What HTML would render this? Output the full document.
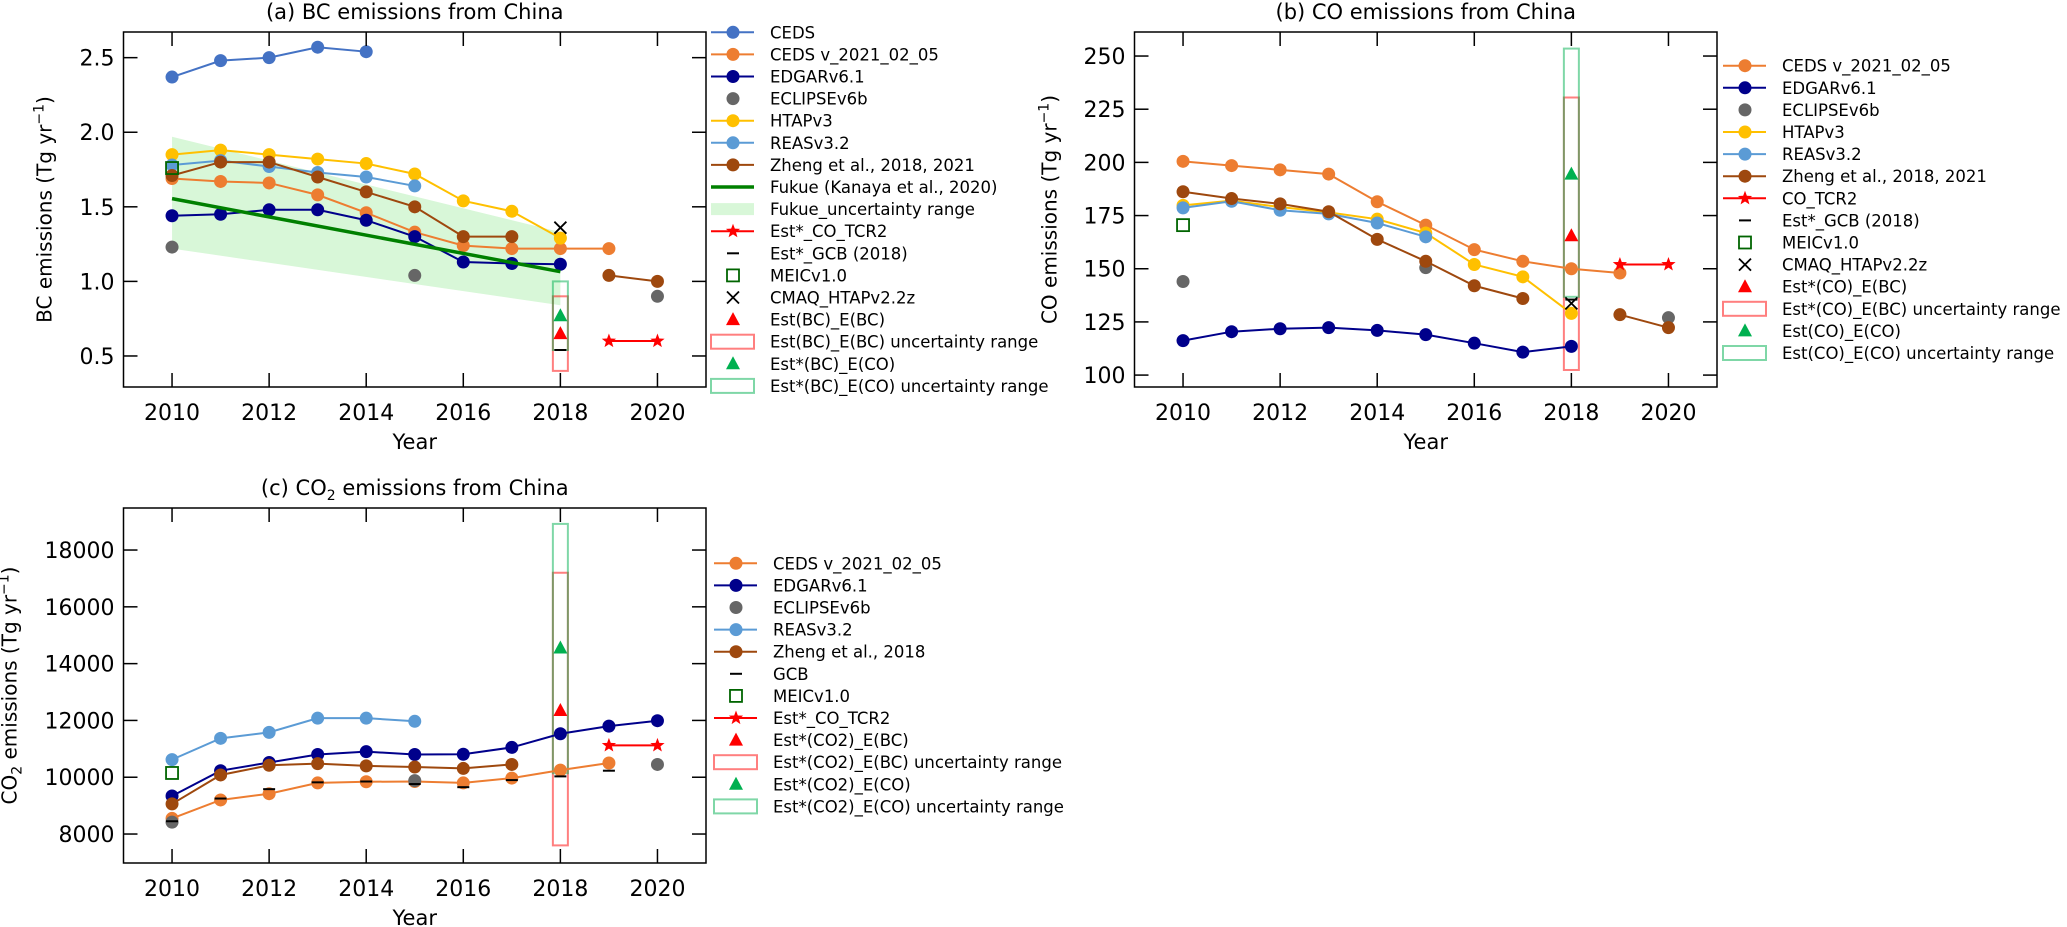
<!DOCTYPE html>
<html><head><meta charset="utf-8"><title>Emissions from China</title>
<style>
html,body{margin:0;padding:0;background:#fff;}
svg{display:block;font-family:"DejaVu Sans","Liberation Sans",sans-serif;}
</style></head>
<body>
<svg id="fig" xmlns="http://www.w3.org/2000/svg" width="2067" height="927" viewBox="0 0 2067 927"></svg>
<script>
// ---------- data ----------
const YEARS = [2010,2011,2012,2013,2014,2015,2016,2017,2018,2019,2020];
// (a) BC, Tg/yr
const bcCeds    = [2.37,2.48,2.50,2.57,2.54,null,null,null,null,null,null];
const bcCedsV   = [1.69,1.67,1.66,1.58,1.46,1.33,1.24,1.22,1.22,1.22,null];
const bcEdgar   = [1.44,1.45,1.48,1.48,1.41,1.30,1.13,1.12,1.115,null,null];
const bcEclipse = [1.23,null,null,null,null,1.04,null,null,null,null,0.90];
const bcHtap    = [1.85,1.88,1.85,1.82,1.79,1.72,1.54,1.47,1.29,null,null];
const bcReas    = [1.78,1.81,1.77,1.73,1.70,1.64,null,null,null,null,null];
const bcZheng   = [1.71,1.80,1.80,1.70,1.60,1.50,1.30,1.30,null,1.04,1.00];
const bcFukueYears = [2010,2018];
const bcFukue      = [1.555,1.065];
const bcFukueHigh  = [1.97,1.33];
const bcFukueLow   = [1.22,0.84];
const bcTcr2Years = [2019,2020];
const bcTcr2      = [0.60,0.60];
const bcGcb  = 0.54;
const bcMeic = 1.76;
const bcCmaq = 1.36;
const bcEstBB = 0.65;  const bcEstBBRange = [0.40,0.90];
const bcEstBC = 0.77;  const bcEstBCRange = [0.54,1.00];
const bcTicks = [0.5,1.0,1.5,2.0,2.5];
const bcTickLabels = ["0.5","1.0","1.5","2.0","2.5"];
// (b) CO, Tg/yr
const coCedsV   = [200.5,198.5,196.5,194.5,181.5,170.5,159,153.5,150,148,null];
const coEdgar   = [116.2,120.4,121.8,122.3,121,119,115,110.8,113.5,null,null];
const coEclipse = [144,null,null,null,null,150.5,null,null,null,null,127];
const coHtap    = [179.8,182,179,176.5,173.3,166.8,152,146.2,129,null,null];
const coReas    = [178.6,181.7,177.5,175.8,171.5,165,null,null,null,null,null];
const coZheng   = [186.2,183,180.5,176.8,163.8,153.5,142,136,null,128.4,122.3];
const coTcr2Years = [2019,2020];
const coTcr2      = [152,152];
const coGcb  = 135.5;
const coMeic = 170.5;
const coCmaq = 133.7;
const coEstCB = 165.5; const coEstCBRange = [102.4,230.5];
const coEstCC = 194.5; const coEstCCRange = [136.8,253.5];
const coTicks = [100,125,150,175,200,225,250];
const coTickLabels = ["100","125","150","175","200","225","250"];
// (c) CO2, Tg/yr
const c2CedsV   = [8550,9200,9420,9800,9840,9850,9800,9970,10250,10500,null];
const c2Edgar   = [9340,10230,10520,10800,10900,10800,10810,11050,11530,11800,11990];
const c2Eclipse = [8420,null,null,null,null,9880,null,null,null,null,10450];
const c2Reas    = [10620,11370,11580,12080,12080,11970,null,null,null,null,null];
const c2Zheng   = [9060,10080,10420,10480,10400,10360,10310,10450,null,null,null];
const c2Gcb     = [8450,9250,9580,9820,9850,9760,9650,9900,10030,10230,null];
const c2Meic = 10150;
const c2Tcr2Years = [2019,2020];
const c2Tcr2      = [11120,11120];
const c2EstB = 12350; const c2EstBRange = [7600,17200];
const c2EstC = 14550; const c2EstCRange = [10140,18920];
const c2Ticks = [8000,10000,12000,14000,16000,18000];
const c2TickLabels = ["8000","10000","12000","14000","16000","18000"];
const xTicks = [2010,2012,2014,2016,2018,2020];
const xTickLabels = ["2010","2012","2014","2016","2018","2020"];

// ---------- colours ----------
const C = {ceds:'#4472C4',cedsV:'#ED7D31',edgar:'#00008B',eclipse:'#666666',htap:'#FFC000',
  reas:'#5B9BD5',zheng:'#9E480E',fukue:'#008000',band:'#d8f7d8',red:'#ff0000',meic:'#006400',
  green:'#00b050',boxR:'rgba(255,0,0,0.5)',boxG:'rgba(0,176,80,0.5)'};
const MR = 6.5;

const NS='http://www.w3.org/2000/svg';
const svg=document.getElementById('fig');
function el(tag, attrs, parent, name){
  const e=document.createElementNS(NS,tag);
  for(const k in attrs) e.setAttribute(k,attrs[k]);
  
  
  (parent||svg).appendChild(e);
  return e;
}
function txt(s, attrs, parent, name){ const t=el('text',attrs,parent,name); t.textContent=s; return t; }

function makePanel(x0,x1,y0,y1,ymin,ymax,name){
  const g=el('g',{},svg,name);
  return {g,x0,x1,y0,y1,
    sx:yr=>x0+(yr-2009)/12*(x1-x0),
    sy:v=>y1-(v-ymin)/(ymax-ymin)*(y1-y0)};
}
function axes(p, yTicks, yLabels, title, ylabelParts, prefix){
  el('rect',{x:p.x0,y:p.y0,width:p.x1-p.x0,height:p.y1-p.y0,fill:'none',stroke:'#000','stroke-width':1.5},p.g,prefix+'-axes-frame');
  xTicks.forEach((yr,i)=>{
    const x=p.sx(yr);
    el('line',{x1:x,y1:p.y1,x2:x,y2:p.y1-14,stroke:'#000','stroke-width':1.5},p.g,prefix+'-x-tick');
    el('line',{x1:x,y1:p.y0,x2:x,y2:p.y0+14,stroke:'#000','stroke-width':1.5},p.g,prefix+'-x-tick-top');
    txt(xTickLabels[i],{x:x,y:p.y1+33,'text-anchor':'middle','font-size':22},p.g,prefix+'-x-tick-label');
  });
  yTicks.forEach((v,i)=>{
    const y=p.sy(v);
    el('line',{x1:p.x0,y1:y,x2:p.x0+14,y2:y,stroke:'#000','stroke-width':1.5},p.g,prefix+'-y-tick');
    el('line',{x1:p.x1,y1:y,x2:p.x1-14,y2:y,stroke:'#000','stroke-width':1.5},p.g,prefix+'-y-tick-right');
    txt(yLabels[i],{x:p.x0-9,y:y+8,'text-anchor':'end','font-size':22},p.g,prefix+'-y-tick-label');
  });
  txt('Year',{x:(p.x0+p.x1)/2,y:p.y1+62,'text-anchor':'middle','font-size':21},p.g,prefix+'-x-axis-title');
  const tt=el('text',{x:(p.x0+p.x1)/2,y:p.y0-13,'text-anchor':'middle','font-size':21},p.g,prefix+'-chart-title');
  title.forEach(([s,sub])=>{const ts=el('tspan',sub?{'font-size':14,dy:5}:(tt.childNodes.length?{dy:-5}:{}),tt,prefix+'-title-part');ts.textContent=s;});
  const cy=(p.y0+p.y1)/2, lx=p.x0-(prefix==='c'?107:(prefix==='b'?78:72));
  const yl=el('text',{x:lx,y:cy,'text-anchor':'middle','font-size':20,transform:`rotate(-90 ${lx} ${cy})`},p.g,prefix+'-y-axis-title');
  let prevShift=0;
  ylabelParts.forEach(([s,mode])=>{
    let a={};
    const shift = mode==='sup'?-8:(mode==='sub'?5:0);
    if(shift!==prevShift) a.dy=shift-prevShift;
    if(mode) a['font-size']=14;
    const ts=el('tspan',a,yl,prefix+'-y-title-part'); ts.textContent=s; prevShift=shift;
  });
}
function lineSeries(p, vals, color, name, withLine){
  if(withLine!==false){
    let d='', pen=false;
    vals.forEach((v,i)=>{ if(v==null){pen=false;return;} d+=(pen?'L':'M')+p.sx(YEARS[i])+' '+p.sy(v)+' '; pen=true; });
    el('path',{d,fill:'none',stroke:color,'stroke-width':2},p.g,name+'-line');
  }
  vals.forEach((v,i)=>{ if(v==null) return;
    el('circle',{cx:p.sx(YEARS[i]),cy:p.sy(v),r:MR,fill:color},p.g,name+'-point');
  });
}
function starPath(cx,cy,r){
  let d='';
  for(let k=0;k<10;k++){const rr=k%2?r*0.42:r; const a=-Math.PI/2+k*Math.PI/5; d+=(k?'L':'M')+(cx+rr*Math.cos(a)).toFixed(2)+' '+(cy+rr*Math.sin(a)).toFixed(2);}
  return d+'Z';
}
function star(g,cx,cy,name){ el('path',{d:starPath(cx,cy,7.5),fill:C.red},g,name); }
function tri(g,cx,cy,color,name){ el('path',{d:`M${cx} ${cy-7.5} L${cx+7} ${cy+5.5} L${cx-7} ${cy+5.5}Z`,fill:color},g,name); }
function square(g,cx,cy,name){ el('rect',{x:cx-6,y:cy-6,width:12,height:12,fill:'none',stroke:C.meic,'stroke-width':1.8},g,name); }
function xmark(g,cx,cy,name){ el('path',{d:`M${cx-6} ${cy-6} L${cx+6} ${cy+6} M${cx+6} ${cy-6} L${cx-6} ${cy+6}`,stroke:'#000','stroke-width':1.8},g,name); }
function dash(g,cx,cy,name){ el('line',{x1:cx-6,y1:cy,x2:cx+6,y2:cy,stroke:'#000','stroke-width':2},g,name); }
function rangeBox(p,yr,range,color,name){
  const x=p.sx(yr);
  el('rect',{x:x-7.5,y:p.sy(range[1]),width:15,height:p.sy(range[0])-p.sy(range[1]),fill:'none',stroke:color,'stroke-width':2},p.g,name);
}
function tcr2(p,yrs,vals,name){
  let d=''; yrs.forEach((y,i)=>{d+=(i?'L':'M')+p.sx(y)+' '+p.sy(vals[i])+' ';});
  el('path',{d,fill:'none',stroke:C.red,'stroke-width':2},p.g,name+'-line');
  yrs.forEach((y,i)=>star(p.g,p.sx(y),p.sy(vals[i]),name+'-point'));
}
function legend(x,y0,items,prefix){
  const g=el('g',{},svg,prefix+'-legend');
  items.forEach((it,i)=>{
    const y=y0+i*22.1, mx=x+22;
    const row=el('g',{},g,prefix+'-legend-entry');
    const k=it[1];
    if(k==='line'){ el('line',{x1:x,y1:y,x2:x+43,y2:y,stroke:it[2],'stroke-width':2},row,'legend-line'); el('circle',{cx:mx,cy:y,r:MR,fill:it[2]},row,'legend-marker'); }
    else if(k==='dot'){ el('circle',{cx:mx,cy:y,r:MR,fill:it[2]},row,'legend-marker'); }
    else if(k==='thick'){ el('line',{x1:x,y1:y,x2:x+43,y2:y,stroke:it[2],'stroke-width':3.5},row,'legend-line'); }
    else if(k==='band'){ el('rect',{x:x,y:y-6,width:43,height:12,fill:C.band},row,'legend-patch'); }
    else if(k==='star'){ el('line',{x1:x,y1:y,x2:x+43,y2:y,stroke:C.red,'stroke-width':2},row,'legend-line'); star(row,mx,y,'legend-marker'); }
    else if(k==='dash'){ dash(row,mx,y,'legend-marker'); }
    else if(k==='square'){ square(row,mx,y,'legend-marker'); }
    else if(k==='x'){ xmark(row,mx,y,'legend-marker'); }
    else if(k==='tri'){ tri(row,mx,y,it[2],'legend-marker'); }
    else if(k==='box'){ el('rect',{x:x,y:y-7,width:43,height:14,fill:'none',stroke:it[2],'stroke-width':2},row,'legend-patch'); }
    txt(it[0],{x:x+59,y:y+6,'font-size':16.5},row,'legend-label');
  });
}

// ---------- panel (a) ----------
const pa=makePanel(123.5,706,32,387,0.292,2.672,'panel-a-bc');
{
  const d='M'+bcFukueYears.map((yr,i)=>pa.sx(yr)+' '+pa.sy(bcFukueHigh[i])).join(' L')+' L'+
    bcFukueYears.slice().reverse().map((yr,i)=>pa.sx(yr)+' '+pa.sy(bcFukueLow.slice().reverse()[i])).join(' L')+'Z';
  el('path',{d,fill:C.band},pa.g,'fukue-uncertainty-band');
  rangeBox(pa,2018,bcEstBBRange,C.boxR,'est-bc-ebc-range');
  rangeBox(pa,2018,bcEstBCRange,C.boxG,'est-bc-eco-range');
  lineSeries(pa,bcCeds,C.ceds,'ceds');
  lineSeries(pa,bcCedsV,C.cedsV,'ceds-v2021');
  lineSeries(pa,bcEdgar,C.edgar,'edgar');
  lineSeries(pa,bcEclipse,C.eclipse,'eclipse',false);
  lineSeries(pa,bcHtap,C.htap,'htap');
  lineSeries(pa,bcReas,C.reas,'reas');
  lineSeries(pa,bcZheng,C.zheng,'zheng');
  el('path',{d:'M'+bcFukueYears.map((yr,i)=>pa.sx(yr)+' '+pa.sy(bcFukue[i])).join(' L'),stroke:C.fukue,'stroke-width':3.5,fill:'none'},pa.g,'fukue-line');
  tcr2(pa,bcTcr2Years,bcTcr2,'est-co-tcr2');
  dash(pa.g,pa.sx(2018),pa.sy(bcGcb),'est-gcb');
  square(pa.g,pa.sx(2010),pa.sy(bcMeic),'meic');
  xmark(pa.g,pa.sx(2018),pa.sy(bcCmaq),'cmaq');
  tri(pa.g,pa.sx(2018),pa.sy(bcEstBB),C.red,'est-bc-ebc');
  tri(pa.g,pa.sx(2018),pa.sy(bcEstBC),C.green,'est-bc-eco');
  axes(pa,bcTicks,bcTickLabels,[['(a) BC emissions from China']],[['BC emissions (Tg yr'],['−1','sup'],[')']],'a');
}
legend(711,32.3,[
  ['CEDS','line',C.ceds],['CEDS v_2021_02_05','line',C.cedsV],['EDGARv6.1','line',C.edgar],['ECLIPSEv6b','dot',C.eclipse],
  ['HTAPv3','line',C.htap],['REASv3.2','line',C.reas],['Zheng et al., 2018, 2021','line',C.zheng],
  ['Fukue (Kanaya et al., 2020)','thick',C.fukue],['Fukue_uncertainty range','band'],['Est*_CO_TCR2','star'],
  ['Est*_GCB (2018)','dash'],['MEICv1.0','square'],['CMAQ_HTAPv2.2z','x'],['Est(BC)_E(BC)','tri',C.red],
  ['Est(BC)_E(BC) uncertainty range','box',C.boxR],['Est*(BC)_E(CO)','tri',C.green],['Est*(BC)_E(CO) uncertainty range','box',C.boxG]
],'a');

// ---------- panel (b) ----------
const pb=makePanel(1134.5,1717,32,387,94.4,261.3,'panel-b-co');
{
  rangeBox(pb,2018,coEstCBRange,C.boxR,'est-co-ebc-range');
  rangeBox(pb,2018,coEstCCRange,C.boxG,'est-co-eco-range');
  lineSeries(pb,coCedsV,C.cedsV,'ceds-v2021');
  lineSeries(pb,coEdgar,C.edgar,'edgar');
  lineSeries(pb,coEclipse,C.eclipse,'eclipse',false);
  lineSeries(pb,coHtap,C.htap,'htap');
  lineSeries(pb,coReas,C.reas,'reas');
  lineSeries(pb,coZheng,C.zheng,'zheng');
  tcr2(pb,coTcr2Years,coTcr2,'co-tcr2');
  dash(pb.g,pb.sx(2018),pb.sy(coGcb),'est-gcb');
  square(pb.g,pb.sx(2010),pb.sy(coMeic),'meic');
  xmark(pb.g,pb.sx(2018),pb.sy(coCmaq),'cmaq');
  tri(pb.g,pb.sx(2018),pb.sy(coEstCB),C.red,'est-co-ebc');
  tri(pb.g,pb.sx(2018),pb.sy(coEstCC),C.green,'est-co-eco');
  axes(pb,coTicks,coTickLabels,[['(b) CO emissions from China']],[['CO emissions (Tg yr'],['−1','sup'],[')']],'b');
}
legend(1723,65.7,[
  ['CEDS v_2021_02_05','line',C.cedsV],['EDGARv6.1','line',C.edgar],['ECLIPSEv6b','dot',C.eclipse],
  ['HTAPv3','line',C.htap],['REASv3.2','line',C.reas],['Zheng et al., 2018, 2021','line',C.zheng],
  ['CO_TCR2','star'],['Est*_GCB (2018)','dash'],['MEICv1.0','square'],['CMAQ_HTAPv2.2z','x'],
  ['Est*(CO)_E(BC)','tri',C.red],['Est*(CO)_E(BC) uncertainty range','box',C.boxR],
  ['Est(CO)_E(CO)','tri',C.green],['Est(CO)_E(CO) uncertainty range','box',C.boxG]
],'b');

// ---------- panel (c) ----------
const pc=makePanel(123.5,706,508,863,6980,19480,'panel-c-co2');
{
  rangeBox(pc,2018,c2EstBRange,C.boxR,'est-co2-ebc-range');
  rangeBox(pc,2018,c2EstCRange,C.boxG,'est-co2-eco-range');
  lineSeries(pc,c2CedsV,C.cedsV,'ceds-v2021');
  lineSeries(pc,c2Edgar,C.edgar,'edgar');
  lineSeries(pc,c2Eclipse,C.eclipse,'eclipse',false);
  lineSeries(pc,c2Reas,C.reas,'reas');
  lineSeries(pc,c2Zheng,C.zheng,'zheng');
  c2Gcb.forEach((v,i)=>{ if(v!=null) dash(pc.g,pc.sx(YEARS[i]),pc.sy(v),'gcb'); });
  square(pc.g,pc.sx(2010),pc.sy(c2Meic),'meic');
  tcr2(pc,c2Tcr2Years,c2Tcr2,'est-co-tcr2');
  tri(pc.g,pc.sx(2018),pc.sy(c2EstB),C.red,'est-co2-ebc');
  tri(pc.g,pc.sx(2018),pc.sy(c2EstC),C.green,'est-co2-eco');
  axes(pc,c2Ticks,c2TickLabels,[['(c) CO'],['2',1],[' emissions from China']],[['CO'],['2','sub'],[' emissions (Tg yr'],['−1','sup'],[')']],'c');
}
legend(714,563.3,[
  ['CEDS v_2021_02_05','line',C.cedsV],['EDGARv6.1','line',C.edgar],['ECLIPSEv6b','dot',C.eclipse],
  ['REASv3.2','line',C.reas],['Zheng et al., 2018','line',C.zheng],['GCB','dash'],['MEICv1.0','square'],
  ['Est*_CO_TCR2','star'],['Est*(CO2)_E(BC)','tri',C.red],['Est*(CO2)_E(BC) uncertainty range','box',C.boxR],
  ['Est*(CO2)_E(CO)','tri',C.green],['Est*(CO2)_E(CO) uncertainty range','box',C.boxG]
],'c');
</script>
</body></html>
